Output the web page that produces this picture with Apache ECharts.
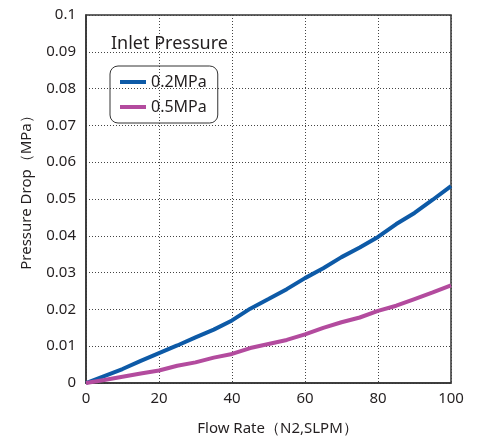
<!DOCTYPE html>
<html><head><meta charset="utf-8">
<script src="https://cdn.jsdelivr.net/npm/echarts@6/dist/echarts.min.js"></script>
<style>html,body{margin:0;padding:0;background:#fff}#c{width:481px;height:439px}</style>
</head><body><div id="c"></div>
<script>
const flowRate = [0,5,10,15,20,25,30,35,40,45,50,55,60,65,70,75,80,85,90,95,100];
const drop02 = [0,0.0019,0.0038,0.006,0.0081,0.0102,0.0124,0.0145,0.017,0.0202,0.0228,0.0255,0.0285,0.0312,0.0342,0.0368,0.0397,0.0432,0.0462,0.0498,0.0535];
const drop05 = [0,0.0008,0.0017,0.0026,0.0034,0.0047,0.0056,0.0069,0.0079,0.0095,0.0106,0.0117,0.0132,0.015,0.0165,0.0178,0.0196,0.021,0.0228,0.0246,0.0265];
const seriesNames = ['0.2MPa','0.5MPa'];
const legendTitle = 'Inlet Pressure';
const xName = 'Flow Rate（N2,SLPM）';
const yName = 'Pressure Drop（MPa）';
const F = '"Noto Sans", sans-serif';
const chart = echarts.init(document.getElementById('c'));
chart.setOption({
  animation:false,
  grid:{left:86,right:30,top:15,bottom:56,show:true,borderColor:'#333',borderWidth:1.5,outerBoundsMode:'none',containLabel:false},
  title:{text:legendTitle,left:106,top:30,textStyle:{fontFamily:F,fontSize:18,fontWeight:'normal',color:'#231f20'}},
  legend:{orient:'vertical',left:110,top:66,data:seriesNames,icon:'rect',itemWidth:26,itemHeight:4,itemGap:9,
    padding:[8,11,8,10],borderColor:'#333',borderWidth:1,borderRadius:8,
    textStyle:{fontFamily:F,fontSize:16,color:'#231f20'}},
  xAxis:{type:'value',min:0,max:100,interval:20,name:xName,nameLocation:'middle',nameGap:38,
    nameTextStyle:{fontFamily:F,fontSize:15,color:'#231f20',padding:[0,0,0,18]},
    axisLine:{show:true,lineStyle:{color:'#333',width:1.5}},axisTick:{show:false},
    axisLabel:{fontFamily:F,fontSize:15,color:'#231f20',margin:8},
    splitLine:{show:true,lineStyle:{color:'#444',type:[1,2],width:1}}},
  yAxis:{type:'value',min:0,max:0.1,interval:0.01,name:yName,nameLocation:'middle',nameGap:52,
    nameTextStyle:{fontFamily:F,fontSize:15,color:'#231f20',padding:[0,0,0,20]},
    axisLine:{show:true,lineStyle:{color:'#333',width:1.5}},axisTick:{show:false},
    axisLabel:{fontFamily:F,fontSize:15,color:'#231f20',margin:10,formatter:v=>String(+v.toFixed(2))},
    splitLine:{show:true,lineStyle:{color:'#444',type:[1,2],width:1}}},
  series:[
    {name:seriesNames[0],type:'line',data:flowRate.map((x,i)=>[x,drop02[i]]),showSymbol:false,lineStyle:{width:4,color:'#0d5aa7'},itemStyle:{color:'#0d5aa7'}},
    {name:seriesNames[1],type:'line',data:flowRate.map((x,i)=>[x,drop05[i]]),showSymbol:false,lineStyle:{width:4,color:'#b34b9e'},itemStyle:{color:'#b34b9e'}}
  ]
});
</script></body></html>
